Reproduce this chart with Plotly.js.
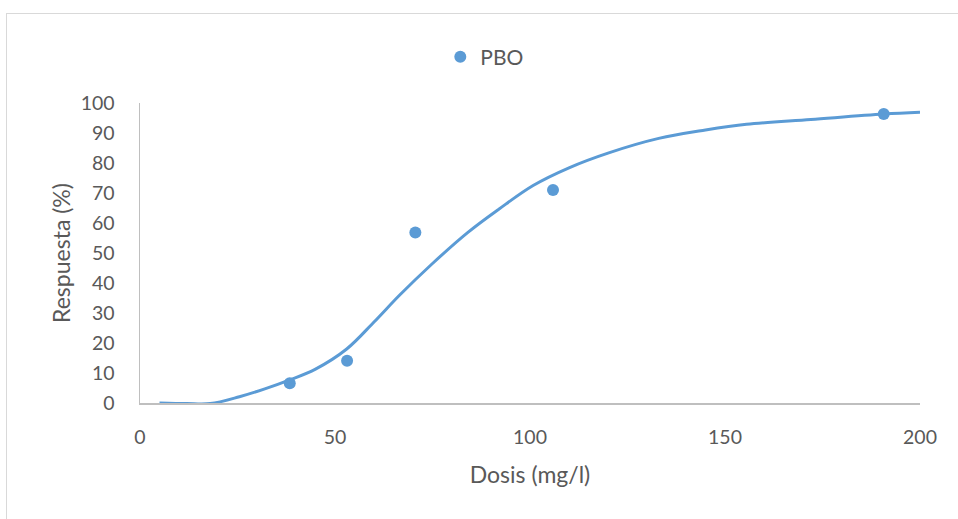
<!DOCTYPE html>
<html>
<head>
<meta charset="utf-8">
<script src="https://cdn.plot.ly/plotly-3.0.1.min.js"></script>
<style>
  html, body { margin: 0; padding: 0; background: #fff; overflow: hidden; }
  #frame { position: absolute; left: 6px; top: 13px; width: 970px; height: 530px; border: 1.5px solid #d9d9d9; box-sizing: border-box; }
  #chart { position: absolute; left: 0; top: 0; width: 958px; height: 519px; }
</style>
</head>
<body>
<div id="frame"></div>
<div id="chart"></div>
<script>
// Observed data points (PBO)
const doseObs = [38.4, 53.1, 70.6, 105.9, 190.7];
const respObs = [6.6, 14.1, 56.8, 71.0, 96.3];

// Fitted curve
const doseFit = [5, 12, 18, 25.5, 32, 38.4, 45, 53, 60, 66.6, 75, 84, 92, 100.8, 110, 120, 133, 145, 155.5, 172, 190.7, 200];
const respFit = [0, -0.2, -0.2, 2.1, 4.7, 7.7, 11.3, 18.0, 27.0, 36.0, 46.5, 56.8, 64.6, 72.5, 78.4, 83.3, 88.2, 91.0, 92.9, 94.5, 96.3, 96.9];

const seriesName = 'PBO';
const xTitle = 'Dosis (mg/l)';
const yTitle = 'Respuesta (%)';

const blue = '#5b9bd5';
const txt = '#595959';
const fontFam = 'Lato, "Open Sans", sans-serif';

const traces = [
  {
    x: doseFit, y: respFit, mode: 'lines', type: 'scatter',
    line: {color: blue, width: 3, shape: 'spline', smoothing: 1},
    showlegend: false, hoverinfo: 'skip', cliponaxis: false
  },
  {
    x: doseObs, y: respObs, mode: 'markers', type: 'scatter', name: seriesName,
    marker: {color: blue, size: 12}, cliponaxis: false
  }
];

const layout = {
  width: 958, height: 519,
  margin: {l: 140, r: 38, t: 103, b: 116},
  paper_bgcolor: 'rgba(0,0,0,0)', plot_bgcolor: 'rgba(0,0,0,0)',
  font: {family: fontFam, size: 19.5, color: txt},
  showlegend: true,
  legend: {x: 0.385, y: 1.153, xanchor: 'left', yanchor: 'middle', orientation: 'h',
           font: {family: fontFam, size: 21, color: txt}, bgcolor: 'rgba(0,0,0,0)'},
  xaxis: {
    range: [0, 200], dtick: 50, tick0: 0, showgrid: false, zeroline: false,
    showline: true, linecolor: '#bfbfbf', linewidth: 1.5, ticks: '',
    tickfont: {family: fontFam, size: 19.5, color: txt},
    ticklabelstandoff: 16, automargin: false,
    title: {text: xTitle, standoff: 20, font: {family: fontFam, size: 23, color: txt}}
  },
  yaxis: {
    range: [0, 100], dtick: 10, tick0: 0, showgrid: false, zeroline: false,
    showline: true, linecolor: '#bfbfbf', linewidth: 1.5, ticks: '',
    tickfont: {family: fontFam, size: 19.5, color: txt},
    ticklabelstandoff: 20, automargin: false,
    title: {text: yTitle, standoff: 3, font: {family: fontFam, size: 23, color: txt}}
  }
};

Plotly.newPlot('chart', traces, layout, {displayModeBar: false, staticPlot: true});
</script>
</body>
</html>
